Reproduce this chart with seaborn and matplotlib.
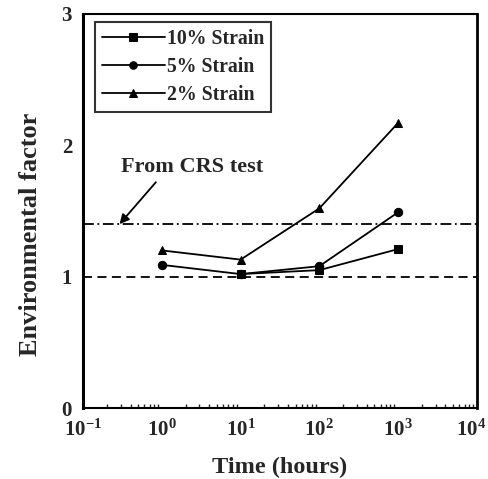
import numpy as np
import pandas as pd
import matplotlib
matplotlib.use("Agg")
import matplotlib.pyplot as plt
import matplotlib.transforms as mtransforms
import seaborn as sns
from matplotlib.ticker import LogLocator, FixedLocator

# data
time_10 = [10, 100, 1000]
factor_10 = [1.02, 1.05, 1.21]
time_5 = [1, 10, 100, 1000]
factor_5 = [1.09, 1.02, 1.08, 1.49]
time_2 = [1, 10, 100, 1000]
factor_2 = [1.20, 1.13, 1.52, 2.17]
crs_level = 1.4
unity_level = 1.0
series_names = ["10% Strain", "5% Strain", "2% Strain"]
x_ticks = [0.1, 1, 10, 100, 1000, 10000]

df = pd.concat([
    pd.DataFrame({"time": time_10, "factor": factor_10, "series": series_names[0]}),
    pd.DataFrame({"time": time_5, "factor": factor_5, "series": series_names[1]}),
    pd.DataFrame({"time": time_2, "factor": factor_2, "series": series_names[2]}),
])

sns.set_style("ticks")
plt.rcParams["font.family"] = ["Liberation Serif", "DejaVu Serif"]
plt.rcParams["font.weight"] = "bold"
plt.rcParams["axes.unicode_minus"] = False

fig = plt.figure(figsize=(4.89, 4.79), dpi=100)
ax = fig.add_axes([0.170, 0.148, 0.805, 0.823])

sns.lineplot(data=df, x="time", y="factor", hue="series", style="series",
             hue_order=series_names, style_order=series_names,
             palette=["black"] * 3, markers=["s", "o", "^"], dashes=False,
             markersize=6, linewidth=1.3, markeredgecolor="black", ax=ax)

ax.axhline(crs_level, color="black", lw=1.3, ls=(0, (6, 2, 1, 2)))
ax.axhline(unity_level, color="black", lw=1.3, ls=(0, (5, 3)))

ax.annotate("From CRS test", xy=(0.29, 1.4), xytext=(0.3, 1.76),
            fontsize=16, fontweight="bold", ha="left", va="bottom",
            arrowprops=dict(arrowstyle="-|>", color="black", lw=1.3,
                            shrinkA=2, shrinkB=0, mutation_scale=14,
                            relpos=(0.28, 0.0)))

ax.set_xscale("log")
ax.set_xlim(0.1, 1e4)
ax.set_ylim(0, 3)
ax.set_yticks([0, 1, 2, 3])
ax.yaxis.set_minor_locator(FixedLocator([]))
ax.xaxis.set_major_locator(FixedLocator(x_ticks))
ax.xaxis.set_minor_locator(LogLocator(base=10, subs=np.arange(2, 10), numticks=10))
ax.tick_params(axis="x", which="both", direction="in", length=3, width=1)
ax.tick_params(axis="x", which="major", length=0, pad=8)
ax.tick_params(axis="y", length=0, pad=8)
for lbl in ax.get_xticklabels() + ax.get_yticklabels():
    lbl.set_fontweight("bold")
    lbl.set_fontsize(15)

# last x label sits right at the figure edge; nudge it in a little
fig.canvas.draw()
last = ax.xaxis.get_major_ticks()[len(x_ticks) - 1].label1
shift = mtransforms.ScaledTranslation(-6 / 100, 0, fig.dpi_scale_trans)
last.set_transform(last.get_transform() + shift)

for side in ["left", "right", "top", "bottom"]:
    ax.spines[side].set_visible(True)
    ax.spines[side].set_color("black")
ax.spines["left"].set_linewidth(2.2)
ax.spines["right"].set_linewidth(2.0)
ax.spines["top"].set_linewidth(1.5)
ax.spines["bottom"].set_linewidth(1.5)

ax.set_xlabel("Time (hours)", fontsize=17.5, fontweight="bold", labelpad=12)
ax.set_ylabel("Environmental factor", fontsize=19, fontweight="bold")
ax.yaxis.set_label_coords(-0.104, 0.44)

leg = ax.legend(loc="upper left", bbox_to_anchor=(0.03, 0.98), borderaxespad=0,
                frameon=True, fancybox=False, edgecolor="black", fontsize=14.2,
                handlelength=3.2, handletextpad=0.1, borderpad=0.35,
                labelspacing=0.42, markerscale=0.9)
leg.get_frame().set_linewidth(1.5)
for t in leg.get_texts():
    t.set_fontweight("bold")

fig.savefig("out.png", dpi=100)
